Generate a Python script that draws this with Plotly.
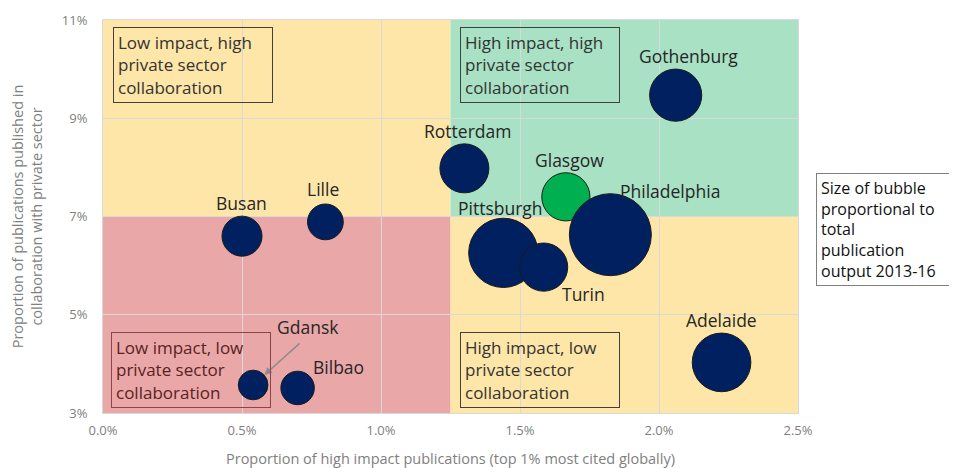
import plotly.graph_objects as go

# city bubbles: share of top-1% cited papers vs share with private sector collaboration
cities = ["Gothenburg", "Rotterdam", "Glasgow", "Philadelphia", "Pittsburgh", "Turin",
          "Lille", "Busan", "Adelaide", "Gdansk", "Bilbao"]
high_impact = [2.06, 1.30, 1.665, 1.825, 1.44, 1.585, 0.80, 0.50, 2.225, 0.54, 0.70]
private_collab = [9.47, 7.98, 7.40, 6.63, 6.26, 5.97, 6.89, 6.60, 4.03, 3.57, 3.51]
output = [34, 30, 29, 84, 60, 29, 16, 20, 43, 11, 14]  # thousands of publications, 2013-16
colors = ["#002060", "#002060", "#00B050", "#002060", "#002060", "#002060",
          "#002060", "#002060", "#002060", "#002060", "#002060"]

# label offsets from bubble centre (px, right / down)
label_dx = [13, 3, 4, 60, -3, 40, -2, -1, 0, 55, 41]
label_dy = [-39, -37, -37, -44, -45, 27, -33, -33, -42, -58, -21]

x_split, y_split = 1.25, 7
x_range, y_range = [0, 2.5], [3, 11]
x_ticks = [0, 0.5, 1.0, 1.5, 2.0, 2.5]
x_labels = ["0.0%", "0.5%", "1.0%", "1.5%", "2.0%", "2.5%"]
y_ticks = [3, 5, 7, 9, 11]
y_labels = ["3%", "5%", "7%", "9%", "11%"]

YELLOW, GREEN, RED = "#FDE6A8", "#A8E1C4", "#E9A7A8"
FONT = "Open Sans"

max_d = 82
fig = go.Figure()
fig.add_trace(go.Scatter(
    x=high_impact, y=private_collab, mode="markers",
    marker=dict(size=output, sizemode="area", sizeref=2 * max(output) / max_d ** 2,
                color=colors, opacity=1, line=dict(color="#1a1a1a", width=1)),
    hoverinfo="text", text=cities, showlegend=False,
))

# quadrant backgrounds
quads = [
    (x_range[0], x_split, y_split, y_range[1], YELLOW),
    (x_split, x_range[1], y_split, y_range[1], GREEN),
    (x_range[0], x_split, y_range[0], y_split, RED),
    (x_split, x_range[1], y_range[0], y_split, YELLOW),
]
for x0, x1, y0, y1, c in quads:
    fig.add_shape(type="rect", xref="x", yref="y", x0=x0, x1=x1, y0=y0, y1=y1,
                  fillcolor=c, line_width=0, layer="below")

for name, x, y, dx, dy in zip(cities, high_impact, private_collab, label_dx, label_dy):
    fig.add_annotation(x=x, y=y, text=name, showarrow=False, xshift=dx, yshift=-dy,
                       font=dict(family=FONT, size=17.5, color="#262626"))

# arrow pointing at Gdansk
fig.add_annotation(x=high_impact[9], y=private_collab[9], text="", showarrow=True,
                   ax=48, ay=-43, arrowhead=2, arrowsize=1, arrowwidth=1.5,
                   arrowcolor="#8c8c8c", standoff=15)

box_text = ["Low impact, high<br>private sector<br>collaboration",
            "High impact, high<br>private sector<br>collaboration",
            "Low impact, low<br>private sector<br>collaboration",
            "High impact, low<br>private sector<br>collaboration"]
box_pos = [(0.035, 10.86), (1.284, 10.86), (0.028, 4.645), (1.284, 4.645)]
box_col = ["#333333", "#333333", "#5a2222", "#333333"]
box_line = ["#404040", "#404040", "#8a4545", "#404040"]
for t, (bx, by), tc, lc in zip(box_text, box_pos, box_col, box_line):
    fig.add_annotation(x=bx, y=by, xref="x", yref="y", text=t, showarrow=False,
                       xanchor="left", yanchor="top", align="left", valign="middle",
                       width=150, height=66, borderpad=4, bordercolor=lc, borderwidth=1,
                       font=dict(family=FONT, size=17, color=tc))

fig.add_annotation(x=1.026, y=0.61, xref="paper", yref="paper", showarrow=False,
                   text="Size of bubble<br>proportional to<br>total<br>publication<br>output 2013-16",
                   xanchor="left", yanchor="top", align="left", width=127, height=103,
                   borderpad=4, bordercolor="#7f7f7f", borderwidth=1, bgcolor="white",
                   font=dict(family=FONT, size=16, color="#111111"))

fig.update_xaxes(range=x_range, tickvals=x_ticks, ticktext=x_labels, automargin=False,
                 showgrid=True, gridcolor="#d9d9d9", zeroline=False,
                 showline=True, mirror=True, linecolor="#d9d9d9",
                 ticks="outside", ticklen=5, tickcolor="rgba(0,0,0,0)",
                 tickfont=dict(family=FONT, size=13, color="#808080"),
                 title=dict(text="Proportion of high impact publications (top 1% most cited globally)",
                            font=dict(family=FONT, size=14.5, color="#808080"), standoff=16))
fig.update_yaxes(range=y_range, tickvals=y_ticks, ticktext=y_labels, automargin=False,
                 showgrid=True, gridcolor="#d9d9d9", zeroline=False,
                 showline=True, mirror=True, linecolor="#d9d9d9",
                 ticks="outside", ticklen=12, tickcolor="rgba(0,0,0,0)",
                 tickfont=dict(family=FONT, size=13, color="#808080"),
                 title=dict(text="Proportion of publications published in<br>collaboration with private sector",
                            font=dict(family=FONT, size=14.5, color="#808080"), standoff=20))

fig.update_layout(width=949, height=460, margin=dict(l=95, r=159, t=12, b=55),
                  plot_bgcolor="white", paper_bgcolor="white")
fig.write_html("out.html")
